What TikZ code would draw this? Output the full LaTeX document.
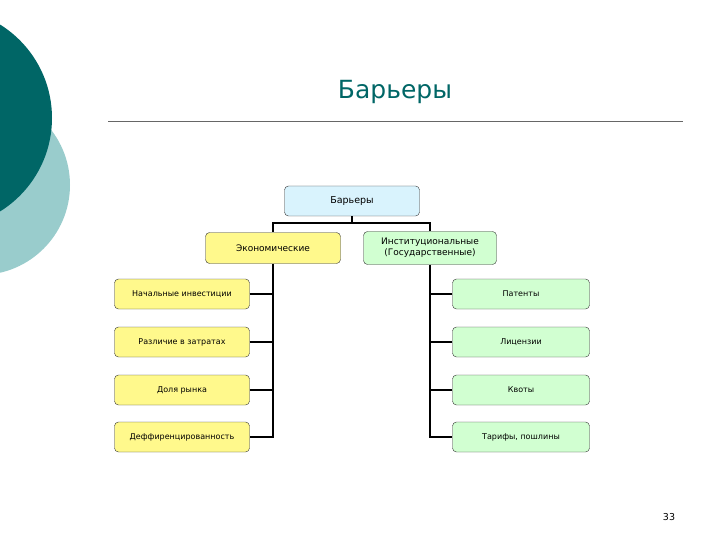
\documentclass[tikz,border=0pt]{standalone}
\usepackage{fontspec}
\setmainfont{DejaVu Sans}
\begin{document}
\begin{tikzpicture}[x=1pt,y=-1pt,
  box/.style={draw=black!80,rounded corners=4pt,minimum width=#1,minimum height=30pt,inner sep=1pt,align=center,font=\fontsize{8}{10}\selectfont},
  yb/.style={box=135pt,fill=yellow!45},
  gb/.style={box=137pt,fill=green!18},
  ln/.style={line width=1.4pt}]
\useasboundingbox (0,0) rectangle (720,540);
\fill[fill={rgb,255:red,153;green,204;blue,204}] (-20,185) circle (90);
\fill[fill={rgb,255:red,0;green,102;blue,102}] (-58,118) circle (110);
\node[text={rgb,255:red,0;green,102;blue,102},font=\fontsize{25}{29}\selectfont] (title) at (395,92) {Барьеры};
\draw[black!60] (108,121) -- (683,121);
\node[box=135pt,fill=cyan!15,font=\fontsize{9.5}{11}\selectfont] (top) at (352,201) {Барьеры};
\node[yb,minimum height=31pt,font=\fontsize{9}{11}\selectfont] (ec) at (273,248) {Экономические};
\node[gb,box=133pt,minimum height=33pt,fill=green!18,font=\fontsize{9}{11}\selectfont] (in) at (430,248) {Институциональные\\(Государственные)};
\node[yb] (l1) at (182,294) {Начальные инвестиции};
\node[yb] (l2) at (182,342) {Различие в затратах};
\node[yb] (l3) at (182,390) {Доля рынка};
\node[yb] (l4) at (182,437) {Деффиренцированность};
\node[gb] (r1) at (521,294) {Патенты};
\node[gb] (r2) at (521,342) {Лицензии};
\node[gb] (r3) at (521,390) {Квоты};
\node[gb] (r4) at (521,437) {Тарифы, пошлины};
\coordinate (j) at (352,223);
\draw[ln] (top.south) -- (j) -| (ec.north);
\draw[ln] (j) -| (in.north);
\draw[ln] (ec.south) -- (ec.south |- l4.east) -- (l4.east);
\foreach \n in {l1,l2,l3} \draw[ln] (\n.east) -- (ec.south |- \n.east);
\draw[ln] (in.south) -- (in.south |- r4.west) -- (r4.west);
\foreach \n in {r1,r2,r3} \draw[ln] (\n.west) -- (in.south |- \n.west);
\node[font=\fontsize{9.5}{11}\selectfont] (pg) at (669,517) {33};
\end{tikzpicture}
\end{document}
